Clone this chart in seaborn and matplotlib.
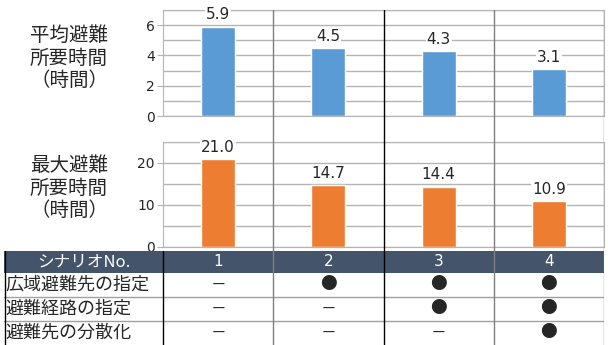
# 避難所要時間の比較（シナリオ別）
import matplotlib
matplotlib.use('Agg')
import matplotlib.pyplot as plt
import seaborn as sns
import pandas as pd
from matplotlib.ticker import MultipleLocator

# データ
scenarios = ['1', '2', '3', '4']
mean_hours = [5.9, 4.5, 4.3, 3.1]
max_hours = [21.0, 14.7, 14.4, 10.9]
row_labels = ['広域避難先の指定', '避難経路の指定', '避難先の分散化']
marks = [['ー', '●', '●', '●'],
         ['ー', 'ー', '●', '●'],
         ['ー', 'ー', 'ー', '●']]

sns.set_style('white')
plt.rcParams['font.family'] = ['DejaVu Sans', 'Noto Sans CJK JP']
cjk = ['Noto Sans CJK JP', 'DejaVu Sans']

W, H = 608, 345
fig = plt.figure(figsize=(W / 100, H / 100), dpi=100)


def px(x0, y0, x1, y1):
    # ピクセル座標 -> figure座標
    return [x0 / W, 1 - y1 / H, (x1 - x0) / W, (y1 - y0) / H]


ax1 = fig.add_axes(px(163, 10, 604, 116))
ax2 = fig.add_axes(px(163, 142, 604, 247))
axt = fig.add_axes(px(4, 251, 604, 345))

df = pd.DataFrame({'シナリオ': scenarios, '平均': mean_hours, '最大': max_hours})

grid = '#b4b4b4'
charts = [
    (ax1, '平均', '#5b9bd5', 7, 1, 2, '平均避難\n所要時間\n（時間）', 58),
    (ax2, '最大', '#ed7d31', 25, 5, 10, '最大避難\n所要時間\n（時間）', 188),
]
for ax, col, color, ymax, step, major, label, ylab in charts:
    sns.barplot(data=df, x='シナリオ', y=col, color=color, saturation=1,
                width=0.31, ax=ax)
    ax.set_xlim(-0.5, 3.5)
    ax.set_ylim(0, ymax)
    ax.set_yticks(range(0, ymax, major))
    ax.yaxis.set_minor_locator(MultipleLocator(step))
    ax.grid(which='both', axis='y', color=grid, lw=1)
    ax.set_axisbelow(True)
    ax.tick_params(axis='y', which='major', length=4, color=grid,
                   labelsize=10, pad=2, left=True)
    ax.tick_params(axis='y', which='minor', length=0)
    ax.set_xticks([])
    ax.set_xlabel('')
    ax.set_ylabel('')
    for s in ax.spines.values():
        s.set_color(grid)
    ax.bar_label(ax.containers[0], fmt='%.1f', padding=3, fontsize=11,
                 bbox=dict(fc='white', ec='none', pad=0.5))
    fig.text(69 / W, 1 - ylab / H, label, ha='center', va='center',
             fontsize=14, family=cjk, linespacing=1.1)

# 表
label_w = 159 / 110.25
x_left = -0.5 - label_w
axt.set_xlim(x_left, 3.5)
axt.set_ylim(94, 0)
axt.axis('off')
row_edges = [0, 22, 46, 70, 94]
axt.axhspan(row_edges[0], row_edges[1], color='#44546a', lw=0)
for y in row_edges[2:-1]:
    axt.axhline(y, color='#a0a0a0', lw=1)
axt.axvline(x_left + 0.005, color='black', lw=1)
axt.axvline(-0.5, color='black', lw=1)

axt.text((x_left - 0.5) / 2, 11, 'シナリオNo.', ha='center', va='center',
         color='white', fontsize=12, family=cjk)
for i, s in enumerate(scenarios):
    axt.text(i, 11, s, ha='center', va='center', color='white', fontsize=11)
for r, (lab, row) in enumerate(zip(row_labels, marks)):
    yc = (row_edges[r + 1] + row_edges[r + 2]) / 2
    axt.text(x_left + 0.01, yc, lab, ha='left', va='center', fontsize=13,
             family=cjk)
    for i, m in enumerate(row):
        axt.text(i, yc, m, ha='center', va='center',
                 fontsize=12 if m == '●' else 10, family=cjk)

# 縦の区切り線（全体を通る）
axo = fig.add_axes(px(163, 10, 604, 345))
axo.set_xlim(-0.5, 3.5)
axo.axis('off')
for x, c in zip([0.5, 1.5, 2.5, 3.5], ['#7f7f7f', 'black', '#7f7f7f', '#7f7f7f']):
    axo.axvline(x, color=c, lw=1)

fig.savefig('out.png', dpi=100)
